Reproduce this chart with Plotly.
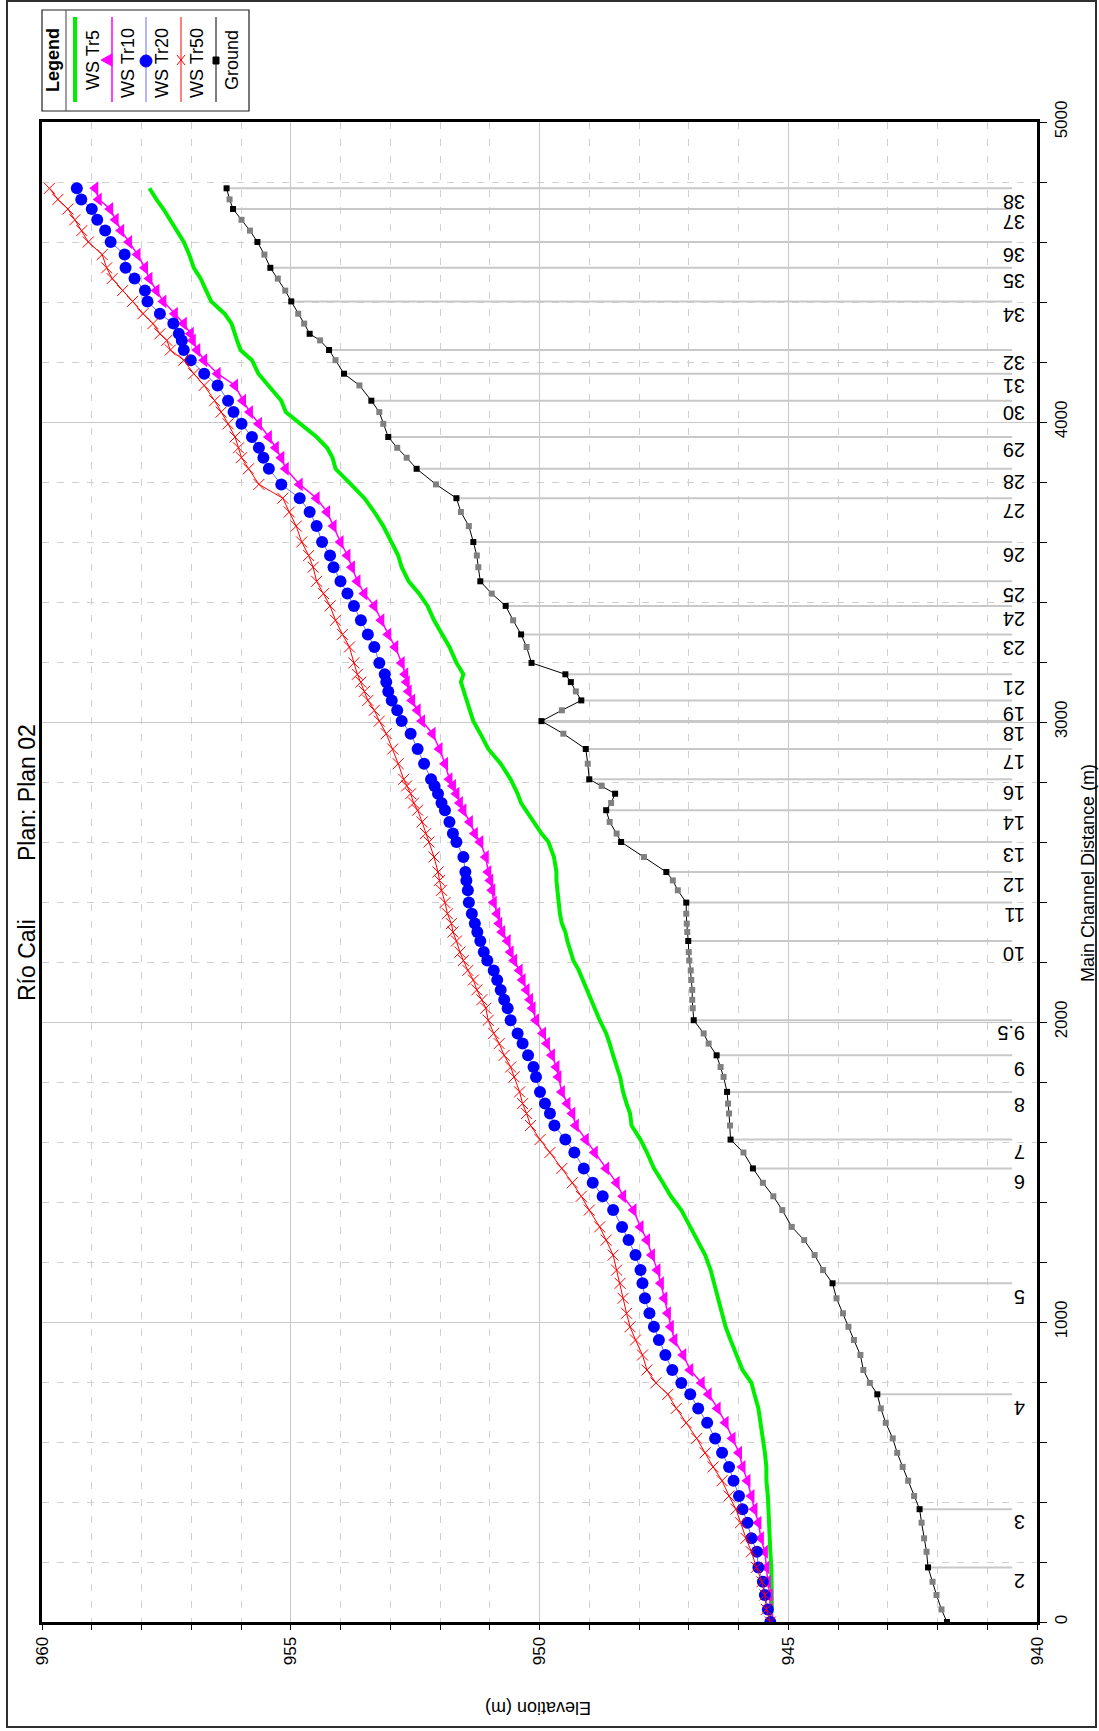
import plotly.graph_objects as go

# ---------------- data ----------------
dist = [0, 42, 90, 134, 182, 234, 279, 331, 376, 420,
        471, 517, 564, 612, 664, 712, 759, 797, 840, 890,
        940, 984, 1029, 1079, 1129, 1173, 1223, 1273, 1317, 1373,
        1419, 1464, 1512, 1565, 1608, 1655, 1695, 1728, 1767, 1817,
        1850, 1889, 1928, 1962, 2006, 2046, 2074, 2107, 2140, 2172,
        2205, 2233, 2270, 2300, 2328, 2361, 2398, 2439, 2472, 2500,
        2550, 2600, 2628, 2667, 2706, 2730, 2761, 2787, 2809, 2861,
        2910, 2961, 3003, 3039, 3072, 3102, 3133, 3159, 3197, 3250,
        3292, 3339, 3387, 3428, 3469, 3516, 3555, 3600, 3653, 3700,
        3746, 3792, 3844, 3881, 3914, 3950, 3994, 4033, 4071, 4122,
        4161, 4206, 4240, 4272, 4294, 4328, 4361, 4402, 4438, 4478,
        4514, 4558, 4600, 4638, 4674, 4710, 4742, 4779]

ground = [941.81, 941.92, 942.02, 942.10, 942.19, 942.22, 942.27, 942.32, 942.36, 942.47,
          942.59, 942.70, 942.81, 942.90, 943.04, 943.14, 943.21, 943.36, 943.49, 943.55,
          943.68, 943.79, 943.90, 944.03, 944.11, 944.30, 944.47, 944.68, 944.93, 945.12,
          945.30, 945.51, 945.71, 945.90, 946.16, 946.17, 946.19, 946.21, 946.23, 946.30,
          946.36, 946.44, 946.60, 946.70, 946.90, 946.92, 946.93, 946.93, 946.95, 946.96,
          946.99, 947.00, 947.01, 947.03, 947.04, 947.05, 947.05, 947.22, 947.32, 947.45,
          947.90, 948.36, 948.45, 948.59, 948.66, 948.56, 948.48, 948.75, 949.00, 949.03,
          949.07, 949.52, 949.96, 949.55, 949.16, 949.27, 949.37, 949.48, 950.16, 950.26,
          950.37, 950.53, 950.68, 950.96, 951.19, 951.23, 951.26, 951.33, 951.42, 951.58,
          951.67, 952.08, 952.47, 952.67, 952.86, 953.04, 953.14, 953.22, 953.38, 953.62,
          953.93, 954.10, 954.23, 954.41, 954.62, 954.73, 954.85, 954.99, 955.11, 955.26,
          955.41, 955.53, 955.67, 955.82, 955.99, 956.16, 956.23, 956.29]

ws_tr5 = [945.36, 945.33, 945.33, 945.33, 945.34, 945.36, 945.37, 945.40, 945.41, 945.41,
          945.44, 945.44, 945.47, 945.51, 945.55, 945.60, 945.68, 945.74, 945.92, 946.05,
          946.16, 946.26, 946.33, 946.40, 946.49, 946.56, 946.67, 946.84, 946.97, 947.15,
          947.36, 947.52, 947.70, 947.84, 947.97, 948.15, 948.18, 948.25, 948.32, 948.38,
          948.45, 948.52, 948.59, 948.66, 948.79, 948.89, 948.96, 949.03, 949.11, 949.21,
          949.32, 949.38, 949.44, 949.48, 949.55, 949.59, 949.62, 949.64, 949.66, 949.66,
          949.71, 949.82, 949.96, 950.12, 950.26, 950.37, 950.44, 950.51, 950.58, 950.78,
          951.03, 951.19, 951.33, 951.40, 951.47, 951.53, 951.58, 951.53, 951.67, 951.81,
          951.95, 952.12, 952.25, 952.42, 952.63, 952.77, 952.84, 952.97, 953.14, 953.32,
          953.52, 953.79, 954.10, 954.16, 954.27, 954.48, 954.82, 955.10, 955.19, 955.44,
          955.65, 955.78, 956.01, 956.08, 956.12, 956.19, 956.33, 956.60, 956.70, 956.81,
          956.95, 957.04, 957.15, 957.29, 957.42, 957.56, 957.70, 957.84]

ws_tr10 = [945.36, 945.37, 945.37, 945.41, 945.44, 945.47, 945.55, 945.60, 945.68, 945.74,
           945.82, 945.92, 945.99, 946.12, 946.26, 946.42, 946.60, 946.74, 946.97, 947.11,
           947.29, 947.36, 947.42, 947.49, 947.56, 947.63, 947.74, 947.84, 947.97, 948.11,
           948.32, 948.45, 948.66, 948.89, 949.07, 949.27, 949.34, 949.44, 949.55, 949.62,
           949.66, 949.75, 949.85, 949.93, 950.07, 950.14, 950.19, 950.26, 950.34, 950.40,
           950.51, 950.58, 950.64, 950.75, 950.81, 950.85, 950.92, 950.95, 950.99, 951.03,
           951.08, 951.19, 951.30, 951.40, 951.53, 951.60, 951.67, 951.74, 951.81, 951.90,
           952.01, 952.15, 952.36, 952.45, 952.56, 952.63, 952.67, 952.70, 952.77, 952.90,
           953.04, 953.18, 953.32, 953.52, 953.66, 953.77, 953.86, 954.00, 954.14, 954.27,
           954.48, 954.82, 955.10, 955.19, 955.30, 955.44, 955.64, 955.82, 955.96, 956.12,
           956.47, 956.74, 956.88, 956.97, 957.01, 957.15, 957.33, 957.56, 957.70, 957.84,
           957.93, 958.08, 958.25, 958.41, 958.52, 958.63, 958.86, 958.93]

ws_tr20 = [945.36, 945.41, 945.47, 945.51, 945.60, 945.63, 945.74, 945.82, 945.92, 945.99,
           946.10, 946.19, 946.33, 946.47, 946.63, 946.81, 946.97, 947.15, 947.33, 947.47,
           947.60, 947.70, 947.79, 947.88, 947.93, 947.97, 948.07, 948.21, 948.34, 948.52,
           948.73, 948.93, 949.11, 949.30, 949.48, 949.70, 949.79, 949.89, 949.99, 950.07,
           950.12, 950.23, 950.34, 950.44, 950.58, 950.64, 950.71, 950.78, 950.85, 950.92,
           951.05, 951.12, 951.19, 951.25, 951.30, 951.36, 951.42, 951.44, 951.47, 951.49,
           951.53, 951.67, 951.74, 951.81, 951.90, 951.97, 952.04, 952.11, 952.18, 952.32,
           952.45, 952.59, 952.77, 952.86, 952.97, 953.04, 953.08, 953.11, 953.22, 953.32,
           953.45, 953.59, 953.73, 953.86, 954.00, 954.14, 954.21, 954.37, 954.48, 954.62,
           954.82, 955.19, 955.44, 955.55, 955.64, 955.78, 955.99, 956.15, 956.26, 956.47,
           956.74, 957.01, 957.15, 957.19, 957.25, 957.36, 957.63, 957.88, 957.93, 958.14,
           958.32, 958.34, 958.62, 958.73, 958.89, 959.00, 959.21, 959.30]

ws_tr50 = [945.36, 945.44, 945.47, 945.53, 945.64, 945.74, 945.85, 945.96, 946.05, 946.19,
           946.33, 946.51, 946.67, 946.84, 947.05, 947.25, 947.42, 947.66, 947.84, 947.93,
           948.07, 948.18, 948.25, 948.32, 948.38, 948.45, 948.52, 948.66, 948.79, 949.00,
           949.16, 949.34, 949.55, 949.79, 949.99, 950.18, 950.26, 950.34, 950.40, 950.51,
           950.58, 950.71, 950.81, 950.92, 951.03, 951.08, 951.16, 951.26, 951.33, 951.44,
           951.53, 951.60, 951.67, 951.74, 951.77, 951.85, 951.90, 951.97, 952.01, 952.04,
           952.12, 952.22, 952.29, 952.36, 952.45, 952.53, 952.59, 952.67, 952.73, 952.84,
           952.95, 953.08, 953.22, 953.32, 953.45, 953.52, 953.59, 953.66, 953.73, 953.82,
           953.96, 954.10, 954.21, 954.34, 954.48, 954.55, 954.64, 954.78, 954.89, 955.03,
           955.16, 955.64, 955.85, 955.99, 956.05, 956.12, 956.26, 956.40, 956.53, 956.74,
           956.95, 957.15, 957.42, 957.49, 957.63, 957.77, 957.97, 958.18, 958.38, 958.59,
           958.70, 958.79, 959.07, 959.20, 959.34, 959.48, 959.68, 959.85]

# river stations (surveyed cross sections)
xs_dist = [0, 182, 376, 759, 1129, 1512, 1608, 1767, 1889, 2006,
           2270, 2398, 2500, 2600, 2706, 2761, 2809, 2910, 3003, 3072,
           3133, 3159, 3197, 3292, 3387, 3469, 3600, 3746, 3844, 3950,
           4071, 4161, 4240, 4294, 4402, 4514, 4600, 4710, 4779]
xs_names = ["1", "2", "3", "4", "5", "6", "7", "8", "9", "9.5",
            "10", "11", "12", "13", "14", "15", "16", "17", "18", "19",
            "20", "21", "22", "23", "24", "25", "26", "27", "28", "29",
            "30", "31", "32", "33", "34", "35", "36", "37", "38"]
hidden_names = ["1", "15", "20", "22", "33"]

elev_ticks = [960, 955, 950, 945, 940]
dist_ticks = [0, 1000, 2000, 3000, 4000, 5000]

title_main = "Río Cali"
title_plan = "Plan: Plan 02"
x_title = "Elevation (m)"
y_title = "Main Channel Distance (m)"
legend_names = ["WS Tr5", "WS Tr10", "WS Tr20", "WS Tr50", "Ground"]

# ---------------- styling ----------------
FONT = "Liberation Sans, Arial, Helvetica, sans-serif"
W, H = 1099, 1731
L, R, T, B = 42, 62, 122, 109
PW, PH = W - L - R, H - T - B
C_TR5, C_TR10, C_TR20, C_TR50 = "#00ee00", "#ff00ff", "#0000ff", "#ff0000"
C_TR20_LINE = "#6a6aff"


def px(xp):
    return (xp - L) / PW


def py(yp):
    return (H - B - yp) / PH


fig = go.Figure()

# cross-section reference lines (from ground to the label area)
lx, ly = [], []
for d, n in zip(xs_dist, xs_names):
    if n in hidden_names:
        continue
    g = ground[dist.index(d)]
    lx += [g, 940.5, None]
    ly += [d, d, None]
fig.add_trace(go.Scatter(x=lx, y=ly, mode="lines", line=dict(color="#c8c8c8", width=2),
                         hoverinfo="skip", showlegend=False))

g_colors = ["#000000" if d in xs_dist else "#808080" for d in dist]
fig.add_trace(go.Scatter(x=ground, y=dist, mode="lines+markers", name="Ground",
                         line=dict(color="black", width=1),
                         marker=dict(symbol="square", size=6, color=g_colors),
                         showlegend=False))
fig.add_trace(go.Scatter(x=ws_tr5, y=dist, mode="lines", name="WS Tr5",
                         line=dict(color=C_TR5, width=4), showlegend=False))
fig.add_trace(go.Scatter(x=ws_tr10, y=dist, mode="lines+markers", name="WS Tr10",
                         line=dict(color=C_TR10, width=1.5),
                         marker=dict(symbol="triangle-left", size=12, color=C_TR10),
                         showlegend=False))
fig.add_trace(go.Scatter(x=ws_tr20, y=dist, mode="lines+markers", name="WS Tr20",
                         line=dict(color=C_TR20_LINE, width=1),
                         marker=dict(symbol="circle", size=12, color=C_TR20),
                         showlegend=False))
fig.add_trace(go.Scatter(x=ws_tr50, y=dist, mode="lines+markers", name="WS Tr50",
                         line=dict(color=C_TR50, width=1),
                         marker=dict(symbol="x-thin", size=11, line=dict(color=C_TR50, width=1)),
                         showlegend=False))

annotations = []
# river station labels (upside down, as in the rotated reference)
for d, n in zip(xs_dist, xs_names):
    if n in hidden_names:
        continue
    annotations.append(dict(x=940.2, y=d, xref="x", yref="y", text=n, showarrow=False,
                            textangle=180, xanchor="right", yanchor="top",
                            font=dict(family=FONT, size=20, color="black")))

# titles
annotations.append(dict(x=px(27), y=py(793), xref="paper", yref="paper", text=title_plan,
                        showarrow=False, textangle=-90, xanchor="center", yanchor="middle",
                        font=dict(family=FONT, size=23, color="black")))
annotations.append(dict(x=px(27), y=py(960), xref="paper", yref="paper", text=title_main,
                        showarrow=False, textangle=-90, xanchor="center", yanchor="middle",
                        font=dict(family=FONT, size=23, color="black")))
annotations.append(dict(x=px(538), y=py(1708), xref="paper", yref="paper", text=x_title,
                        showarrow=False, textangle=180, xanchor="center", yanchor="middle",
                        font=dict(family=FONT, size=18, color="black")))
annotations.append(dict(x=px(1088), y=py(873), xref="paper", yref="paper", text=y_title,
                        showarrow=False, textangle=-90, xanchor="center", yanchor="middle",
                        font=dict(family=FONT, size=18, color="black")))

shapes = []
# outer frame
shapes.append(dict(type="rect", xref="paper", yref="paper", x0=px(7), x1=px(1096),
                   y0=py(1727), y1=py(1), line=dict(color="#303030", width=2)))

# legend box
shapes.append(dict(type="rect", xref="paper", yref="paper", x0=px(42), x1=px(249),
                   y0=py(111), y1=py(10), line=dict(color="#202020", width=1.2),
                   fillcolor="white"))
shapes.append(dict(type="line", xref="paper", yref="paper", x0=px(66), x1=px(66),
                   y0=py(111), y1=py(10), line=dict(color="#404040", width=1)))
annotations.append(dict(x=px(53), y=py(60), xref="paper", yref="paper", text="<b>Legend</b>",
                        showarrow=False, textangle=-90, xanchor="center", yanchor="middle",
                        font=dict(family=FONT, size=18, color="black")))
leg_line_x = [75, 112, 146, 181, 216]
leg_text_x = [93, 128, 162, 197, 232]
leg_text_y = [60, 63, 63, 63, 60]
leg_colors = [C_TR5, C_TR10, C_TR20_LINE, C_TR50, "black"]
leg_widths = [4, 1.5, 1, 1, 1]
for lxp, txp, typ, col, wd, name in zip(leg_line_x, leg_text_x, leg_text_y, leg_colors,
                                        leg_widths, legend_names):
    shapes.append(dict(type="line", xref="paper", yref="paper", x0=px(lxp), x1=px(lxp),
                       y0=py(102), y1=py(17), line=dict(color=col, width=wd)))
    annotations.append(dict(x=px(txp), y=py(typ), xref="paper", yref="paper", text=name,
                            showarrow=False, textangle=-90, xanchor="center", yanchor="middle",
                            font=dict(family=FONT, size=18, color="black")))
# legend markers
tx = leg_line_x[1]
shapes.append(dict(type="path", xref="paper", yref="paper",
                   path="M %f,%f L %f,%f L %f,%f Z" % (px(tx), py(54), px(tx), py(66), px(tx - 11), py(60)),
                   fillcolor=C_TR10, line=dict(color=C_TR10, width=1)))
cx = leg_line_x[2]
shapes.append(dict(type="circle", xref="paper", yref="paper", x0=px(cx - 6), x1=px(cx + 6),
                   y0=py(67), y1=py(55), fillcolor=C_TR20, line=dict(color=C_TR20, width=1)))
rx = leg_line_x[3]
for a, b in [((-4, -5), (4, 5)), ((-4, 5), (4, -5))]:
    shapes.append(dict(type="line", xref="paper", yref="paper", x0=px(rx + a[0]), y0=py(60 + a[1]),
                       x1=px(rx + b[0]), y1=py(60 + b[1]), line=dict(color=C_TR50, width=1)))
gx = leg_line_x[4]
shapes.append(dict(type="rect", xref="paper", yref="paper", x0=px(gx - 3), x1=px(gx + 3),
                   y0=py(64), y1=py(57), fillcolor="black", line=dict(color="black", width=1)))

fig.update_layout(
    width=W, height=H,
    margin=dict(l=L, r=R, t=T, b=B, pad=0),
    paper_bgcolor="white", plot_bgcolor="white",
    showlegend=False,
    annotations=annotations,
    shapes=shapes,
    font=dict(family=FONT, size=17, color="black"),
    xaxis=dict(range=[960, 940], tickvals=elev_ticks, ticktext=[str(v) for v in elev_ticks],
               tickangle=-90, ticks="outside", ticklen=5, tickwidth=1, tickcolor="black",
               showline=True, mirror=True, linewidth=3, linecolor="black",
               showgrid=True, gridcolor="#c8c8c8", gridwidth=1, zeroline=False,
               tickfont=dict(family=FONT, size=17, color="black"),
               minor=dict(tick0=940, dtick=1, ticks="outside", ticklen=5, tickcolor="black",
                          showgrid=True, gridcolor="#d0d0d0", griddash="7px,10px", gridwidth=1)),
    yaxis=dict(range=[0, 5000], tickvals=dist_ticks, ticktext=[str(v) for v in dist_ticks],
               side="right", tickangle=-90, ticks="outside", ticklen=7, tickwidth=1,
               tickcolor="black", showline=True, mirror=True, linewidth=3, linecolor="black",
               showgrid=True, gridcolor="#c8c8c8", gridwidth=1, zeroline=False,
               tickfont=dict(family=FONT, size=17, color="black"),
               minor=dict(tick0=0, dtick=200, ticks="outside", ticklen=7, tickcolor="black",
                          showgrid=True, gridcolor="#d0d0d0", griddash="7px,8px", gridwidth=1)),
)

fig.write_html("out.html")
